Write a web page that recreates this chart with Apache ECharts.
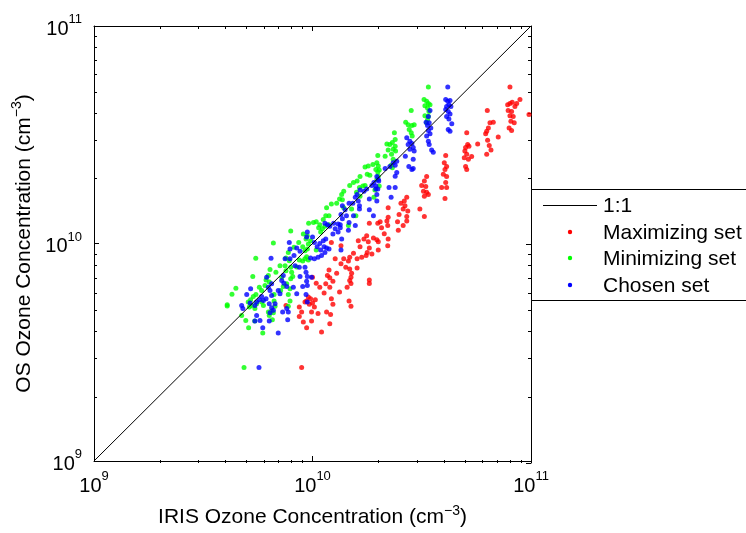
<!DOCTYPE html>
<html>
<head>
<meta charset="utf-8">
<script src="https://cdn.jsdelivr.net/npm/echarts@6/dist/echarts.min.js"></script>
<style>
  html, body { margin: 0; padding: 0; background: #ffffff; }
  #chart { width: 746px; height: 533px; }
</style>
</head>
<body>
<div id="chart"></div>
<script>
// Ozone concentrations, in units of 1e10 cm^-3.
const UNIT = 1e10;

// Maximizing set: IRIS (x) and OS (y)
const maxIris = [8.01,7.82,8.01,8.20,8.44,8.60,8.90,7.86,8.15,8.01,8.29,8.09,8.38,7.94,8.15,9.79,
  6.31,6.49,6.72,6.38,6.27,6.20,6.33,6.44,6.56,6.27,7.08,5.70,5.08,5.13,5.02,5.20,4.98,5.08,4.95,5.35,
  5.17,5.02,5.08,4.07,4.01,4.11,4.04,3.97,4.11,4.07,3.90,4.11,4.04,3.33,3.25,3.16,3.30,3.22,3.33,3.25,
  3.39,3.10,3.25,2.70,2.63,2.54,2.65,2.60,2.73,2.49,2.70,2.22,2.22,2.19,2.04,1.99,2.21,2.45,2.60,2.70,
  2.07,2.13,2.22,2.00,2.47,2.21,2.00,1.82,1.62,1.65,1.72,1.77,1.80,1.82,1.90,1.97,1.78,1.87,1.76,1.68,
  1.60,1.54,1.48,1.46,1.39,1.35,1.42,1.48,1.51,1.48,1.60,1.82,1.22,1.35,1.27,1.19,1.17,1.20,1.24,1.15,
  1.20,1.08,1.04,1.13,1.00,1.29,1.33,1.44,1.47,1.50,1.22,1.24,1.16,1.21,1.20,1.06,1.10,0.957,0.98,0.94,
  0.967,1.00,1.03,0.924,1.02,0.99,0.87,0.892,0.87,0.908,0.94,0.99,0.756,0.892,1.50,1.82,1.50];
const maxOs = [5.24,4.35,4.40,4.46,4.27,4.40,4.59,4.09,4.05,3.87,3.84,3.65,3.59,3.40,3.31,3.92,
  4.09,3.59,3.61,3.40,3.28,3.20,2.98,2.82,2.69,2.57,3.09,2.87,3.23,2.85,2.76,2.80,2.66,2.57,2.48,2.51,
  2.44,2.26,2.19,2.54,2.35,2.26,2.19,2.08,2.03,1.91,1.81,1.81,1.61,2.03,1.94,1.85,1.83,1.74,1.72,1.65,
  1.68,1.44,1.33,1.63,1.57,1.53,1.49,1.44,1.41,1.36,1.33,1.46,1.32,1.27,1.26,1.24,1.21,1.26,1.21,1.27,
  1.18,1.11,1.048,1.02,1.15,0.977,0.934,1.24,1.03,0.967,1.048,1.085,1.02,0.953,1.06,1.04,0.91,0.895,0.88,0.865,
  0.85,0.902,0.865,0.83,0.85,0.806,0.778,0.764,0.73,0.676,0.772,0.68,1.01,0.977,0.85,0.756,0.712,0.695,0.671,0.653,
  0.63,0.63,0.657,0.592,0.70,0.73,0.598,0.63,0.544,0.514,0.557,0.525,0.484,0.472,0.428,0.476,0.392,0.567,0.557,0.544,
  0.525,0.533,0.551,0.538,0.51,0.484,0.51,0.484,0.462,0.436,0.41,0.44,0.519,0.269,0.655,0.655,0.70];

// Minimizing set: IRIS (x) and OS (y)
const minIris = [3.39,3.24,3.33,3.39,3.45,3.27,3.36,3.41,3.27,3.39,3.36,3.33,2.83,2.67,2.74,2.85,2.92,2.77,
  2.83,2.86,2.37,2.39,2.19,2.26,2.32,2.39,2.22,2.34,2.40,2.30,2.34,2.29,2.32,1.99,1.97,2.00,1.95,1.99,2.15,
  1.89,1.80,1.74,2.02,2.00,1.97,2.02,1.78,1.83,1.65,1.60,1.54,1.48,1.64,1.70,1.74,1.93,1.91,1.59,1.65,1.39,
  1.36,1.33,1.37,1.29,1.22,1.19,1.16,1.15,1.12,1.08,1.04,1.01,0.96,1.39,1.51,1.58,1.46,0.795,0.662,0.908,
  0.934,0.947,1.067,1.14,1.19,1.09,1.11,0.865,0.823,0.902,0.924,0.947,0.957,0.98,0.94,0.924,0.957,0.902,0.87,0.847,
  1.04,0.775,0.756,0.783,0.749,0.795,0.756,0.803,0.812,0.71,0.68,0.723,0.795,0.55,0.639,0.628,0.613,0.634,0.606,0.571,
  0.585,0.533,0.446,0.428,0.407,0.551,0.536,0.521,0.508,0.527,0.545,0.555,0.514,0.667,0.667,0.674,0.65,0.628,0.662,0.634,
  0.715,0.735,0.762,0.789,0.775,0.789,0.775,0.474,0.495,0.51,0.544,0.592,0.655,0.486,0.596,0.585,0.407];
const minOs = [5.24,4.59,4.51,4.40,4.35,4.30,4.20,4.05,3.87,3.84,3.71,3.59,4.09,3.61,3.52,3.49,3.52,3.34,
  3.23,3.12,3.23,3.01,2.87,2.85,2.91,2.80,2.69,2.71,2.66,2.57,2.44,2.29,2.23,2.54,2.35,2.27,2.19,2.13,2.52,
  2.31,2.27,2.25,2.18,2.04,1.97,1.84,2.08,2.06,2.03,1.94,1.91,1.85,1.81,1.84,1.85,1.76,1.63,1.72,1.65,1.74,
  1.68,1.60,1.59,1.53,1.52,1.34,1.46,1.34,1.29,1.22,1.26,1.25,1.24,1.46,1.44,1.34,1.21,1.14,1.005,1.105,
  1.048,1.085,1.18,1.20,1.22,1.13,1.17,1.01,0.96,0.967,0.927,0.944,0.995,1.03,0.87,0.85,0.84,0.83,0.84,0.78,
  0.934,0.91,0.858,0.834,0.79,0.778,0.75,0.738,0.705,0.79,0.738,0.70,0.688,0.856,0.759,0.712,0.68,0.665,0.641,0.63,
  0.608,0.705,0.623,0.585,0.523,0.583,0.571,0.551,0.538,0.519,0.502,0.528,0.51,0.583,0.544,0.514,0.49,0.484,0.48,0.467,
  0.608,0.634,0.653,0.619,0.583,0.544,0.514,0.467,0.442,0.41,0.44,0.388,0.446,0.269,0.519,0.538,0.516];

// Chosen set: IRIS (x) and OS (y)
const chosenIris = [4.16,4.07,4.16,4.26,4.21,4.11,4.30,4.07,4.18,4.26,4.11,4.21,4.34,4.18,4.26,3.45,3.39,
  3.31,3.42,3.36,3.48,3.39,3.45,3.33,3.39,3.42,3.51,3.57,2.70,2.79,2.74,2.85,2.89,2.79,2.92,2.66,2.89,2.76,
  2.85,2.89,2.34,2.43,2.39,2.43,2.39,2.26,2.15,2.24,2.39,2.29,1.95,1.99,1.97,1.97,2.01,1.97,2.00,1.91,1.87,
  1.77,1.72,1.65,1.60,1.57,1.53,1.62,1.64,1.64,1.47,1.37,1.41,1.35,1.37,1.34,1.25,1.31,1.17,1.14,1.20,1.43,
  1.54,1.47,1.57,1.82,1.82,1.90,1.95,0.947,0.94,1.00,1.02,1.05,1.08,1.12,1.15,1.13,1.09,1.14,1.10,1.06,
  1.02,0.98,1.16,1.19,1.27,1.34,1.46,1.31,1.24,1.36,1.35,0.783,0.789,0.847,0.877,0.823,0.789,0.749,0.832,0.87,
  0.924,0.934,0.947,0.877,0.94,0.947,0.99,0.646,0.735,0.723,0.74,0.762,0.697,0.71,0.65,0.628,0.617,0.639,0.65,
  0.613,0.596,0.585,0.571,0.555,0.545,0.518,0.50,0.474,0.48,0.521,0.634,0.65,0.662,0.639,0.674,0.817,0.847,0.902,
  0.934,0.947,0.775,0.73,0.762,0.555,0.575,0.634,0.545,0.592,0.697,0.77,0.569];
const chosenOs = [5.24,4.59,4.51,4.55,4.35,4.27,4.27,4.13,4.05,3.94,3.84,3.74,3.55,3.34,3.28,4.09,3.84,
  3.61,3.59,3.49,3.40,3.31,3.20,3.12,2.95,2.85,2.69,2.63,3.06,2.95,2.85,2.88,2.76,2.71,2.66,2.52,2.44,2.26,
  2.19,2.21,2.35,2.39,2.29,2.12,2.04,2.26,2.21,1.81,1.81,1.63,1.84,1.78,1.68,1.57,1.94,2.03,1.97,1.91,1.85,
  1.78,1.74,1.76,1.68,1.63,1.53,1.57,1.49,1.44,1.53,1.49,1.43,1.36,1.30,1.22,1.24,1.23,1.22,1.24,1.20,1.34,
  1.34,1.25,1.21,1.60,1.43,1.34,1.78,1.13,1.07,1.07,1.01,0.967,1.00,1.03,1.048,0.967,0.934,0.91,0.88,0.865,
  0.85,0.858,0.953,0.944,1.17,1.18,1.15,1.13,1.105,1.048,0.934,1.01,0.944,0.953,0.921,0.88,0.85,0.85,0.79,0.778,
  0.778,0.738,0.705,0.705,0.671,0.641,0.70,0.856,0.712,0.676,0.657,0.634,0.608,0.587,0.653,0.63,0.70,0.608,0.577,
  0.557,0.547,0.571,0.551,0.538,0.519,0.533,0.583,0.519,0.502,0.619,0.528,0.507,0.493,0.48,0.528,0.63,0.587,0.634,
  0.583,0.538,0.484,0.484,0.502,0.467,0.443,0.44,0.44,0.41,0.388,0.446,0.269];

// Axis range (both axes) and the 1:1 reference line end points
const axisRange = [1e9, 1e11];
const decades = [9, 10];
const minorMultipliers = [2, 3, 4, 5, 6, 7, 8, 9];

const legendNames = ['1:1', 'Maximizing set', 'Minimizing set', 'Chosen set'];
const setColors = ['#ff0000', '#00ff00', '#0000ff'];

const FONT = '"Liberation Sans", Arial, Helvetica, sans-serif';
const pairs = (xs, ys) => xs.map((x, i) => [x * UNIT, ys[i] * UNIT]);

// Minor tick positions in exponent space (2..9 x 10^n)
const minorTicks = [];
decades.forEach(d => minorMultipliers.forEach(m => minorTicks.push(d + Math.log10(m))));

const plotRect = { left: 94, top: 26, width: 437, height: 437 };

const supRich = {
  b: { fontFamily: FONT, fontSize: 20, color: '#000', lineHeight: 26, verticalAlign: 'bottom' },
  e: { fontFamily: FONT, fontSize: 13, color: '#000', lineHeight: 26, verticalAlign: 'top' }
};
const powLabel = v => '{b|10}{e|' + Math.round(Math.log10(v)) + '}';

function logAxis(pos, gridIndex, extra) {
  return Object.assign({
    type: 'log', logBase: 10, gridIndex, position: pos,
    min: axisRange[0], max: axisRange[1],
    axisLine: { show: true, lineStyle: { color: '#000', width: 1 } },
    axisTick: { show: true, inside: true, length: 5, lineStyle: { color: '#000', width: 1 } },
    axisLabel: { show: false },
    splitLine: { show: false },
    minorTick: { show: false }
  }, extra || {});
}
function minorAxis(pos, gridIndex) {
  return {
    type: 'value', gridIndex, position: pos, min: 9, max: 11,
    axisLine: { show: false },
    axisTick: { show: true, inside: true, length: 3, customValues: minorTicks,
                lineStyle: { color: '#000', width: 1 } },
    axisLabel: { show: false },
    splitLine: { show: false }
  };
}

const nameStyle = {
  fontFamily: FONT, fontSize: 21, color: '#000',
  rich: { s: { fontFamily: FONT, fontSize: 14, color: '#000', verticalAlign: 'top', lineHeight: 27 } }
};
const legendFont = '21px ' + FONT;

const option = {
  backgroundColor: '#ffffff',
  animation: false,
  grid: [0, 1, 2, 3].map(() => Object.assign({ containLabel: false }, plotRect)),
  xAxis: [
    logAxis('bottom', 0, {
      axisLabel: { show: true, margin: 9, formatter: powLabel, rich: supRich },
      name: 'IRIS Ozone Concentration (cm{s|\u22123})',
      nameLocation: 'middle', nameGap: 43, nameTextStyle: nameStyle
    }),
    logAxis('top', 1),
    minorAxis('bottom', 2),
    minorAxis('top', 3)
  ],
  yAxis: [
    logAxis('left', 0, {
      axisLabel: { show: true, margin: 12, formatter: powLabel, rich: supRich },
      name: 'OS Ozone Concentration (cm{s|\u22123})',
      nameLocation: 'middle', nameGap: 47, nameTextStyle: nameStyle
    }),
    logAxis('right', 1),
    minorAxis('left', 2),
    minorAxis('right', 3)
  ],
  series: [
    { name: legendNames[1], type: 'scatter', xAxisIndex: 0, yAxisIndex: 0, symbolSize: 5,
      itemStyle: { color: setColors[0] }, data: pairs(maxIris, maxOs), z: 2 },
    { name: legendNames[2], type: 'scatter', xAxisIndex: 0, yAxisIndex: 0, symbolSize: 5,
      itemStyle: { color: setColors[1] }, data: pairs(minIris, minOs), z: 2 },
    { name: legendNames[3], type: 'scatter', xAxisIndex: 0, yAxisIndex: 0, symbolSize: 5,
      itemStyle: { color: setColors[2] }, data: pairs(chosenIris, chosenOs), z: 2 },
    { name: legendNames[0], type: 'line', xAxisIndex: 0, yAxisIndex: 0, symbol: 'none',
      lineStyle: { color: '#000', width: 1 }, z: 3,
      data: [[axisRange[0], axisRange[0]], [axisRange[1], axisRange[1]]] }
  ],
  graphic: [
    { type: 'rect', z: 10, shape: { x: 531.5, y: 189.5, width: 260, height: 111 },
      style: { fill: '#fff', stroke: '#000', lineWidth: 1 } },
    { type: 'line', z: 11, shape: { x1: 543, y1: 205.5, x2: 597, y2: 205.5 },
      style: { stroke: '#000', lineWidth: 1 } },
    { type: 'text', z: 11, x: 603, y: 206, style: { text: legendNames[0], font: legendFont, fill: '#000', verticalAlign: 'middle' } },
    { type: 'circle', z: 11, shape: { cx: 570, cy: 232, r: 2.2 }, style: { fill: setColors[0] } },
    { type: 'text', z: 11, x: 603, y: 233, style: { text: legendNames[1], font: legendFont, fill: '#000', verticalAlign: 'middle' } },
    { type: 'circle', z: 11, shape: { cx: 570, cy: 258, r: 2.2 }, style: { fill: setColors[1] } },
    { type: 'text', z: 11, x: 603, y: 259, style: { text: legendNames[2], font: legendFont, fill: '#000', verticalAlign: 'middle' } },
    { type: 'circle', z: 11, shape: { cx: 570, cy: 285, r: 2.2 }, style: { fill: setColors[2] } },
    { type: 'text', z: 11, x: 603, y: 286, style: { text: legendNames[3], font: legendFont, fill: '#000', verticalAlign: 'middle' } }
  ]
};

const chart = echarts.init(document.getElementById('chart'), null, { renderer: 'canvas' });
chart.setOption(option);
</script>
</body>
</html>
